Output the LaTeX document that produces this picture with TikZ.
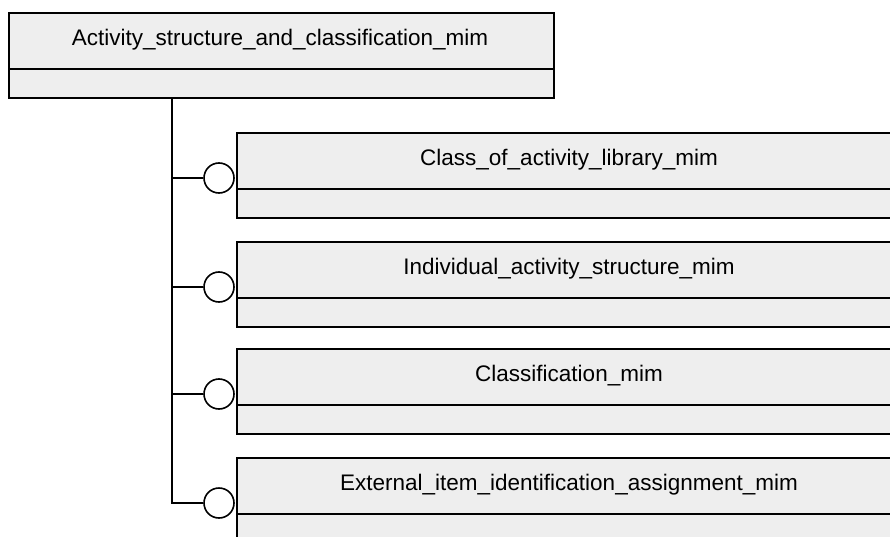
\documentclass[tikz,border=0pt]{standalone}
\usepackage{fontspec}
\setmainfont{Liberation Sans}
\definecolor{boxgray}{RGB}{238,238,238}

\begin{document}
\begin{tikzpicture}[x=1pt,y=-1pt,
  box/.style={draw,fill=boxgray,line width=1.6pt,minimum height=85pt,inner sep=0pt,anchor=north west},
  divider/.style={line width=2.2pt},
  lbl/.style={font=\fontsize{22.5}{27}\selectfont},
  lollipop/.style={draw,circle,fill=white,line width=1.6pt,minimum size=30pt,inner sep=0pt},
  wire/.style={line width=1.6pt}]
\useasboundingbox (0,0) rectangle (890,537);
\clip (0,0) rectangle (890,537);

% top schema
\node[box,minimum width=545pt] (asc) at (8,12) {};
\node[lbl] at (280,40) {Activity\_structure\_and\_classification\_mim};
\draw[divider] ([yshift=-57pt]asc.north west) -- ([yshift=-57pt]asc.north east);
\coordinate (trunk) at ([xshift=164pt]asc.south west);

% used schemas
\foreach \name/\y/\txt in {col/132/Class\_of\_activity\_library\_mim,
    ias/241/Individual\_activity\_structure\_mim,
    cla/348/Classification\_mim,
    eia/457/External\_item\_identification\_assignment\_mim}{
  \node[box,minimum width=666pt] (\name) at (236,\y) {};
  \node[lbl] at (569,\y+28) {\txt};
  \draw[divider] ([yshift=-57pt]\name.north west) -- ([yshift=-57pt]\name.north east);
  \node[lollipop] (\name-c) at (219,\y+46) {};
}

\draw[wire] (trunk) |- (eia-c.west);
\foreach \name in {col,ias,cla}
  \draw[wire] (trunk |- \name-c.west) -- (\name-c.west);

\end{tikzpicture}
\end{document}
